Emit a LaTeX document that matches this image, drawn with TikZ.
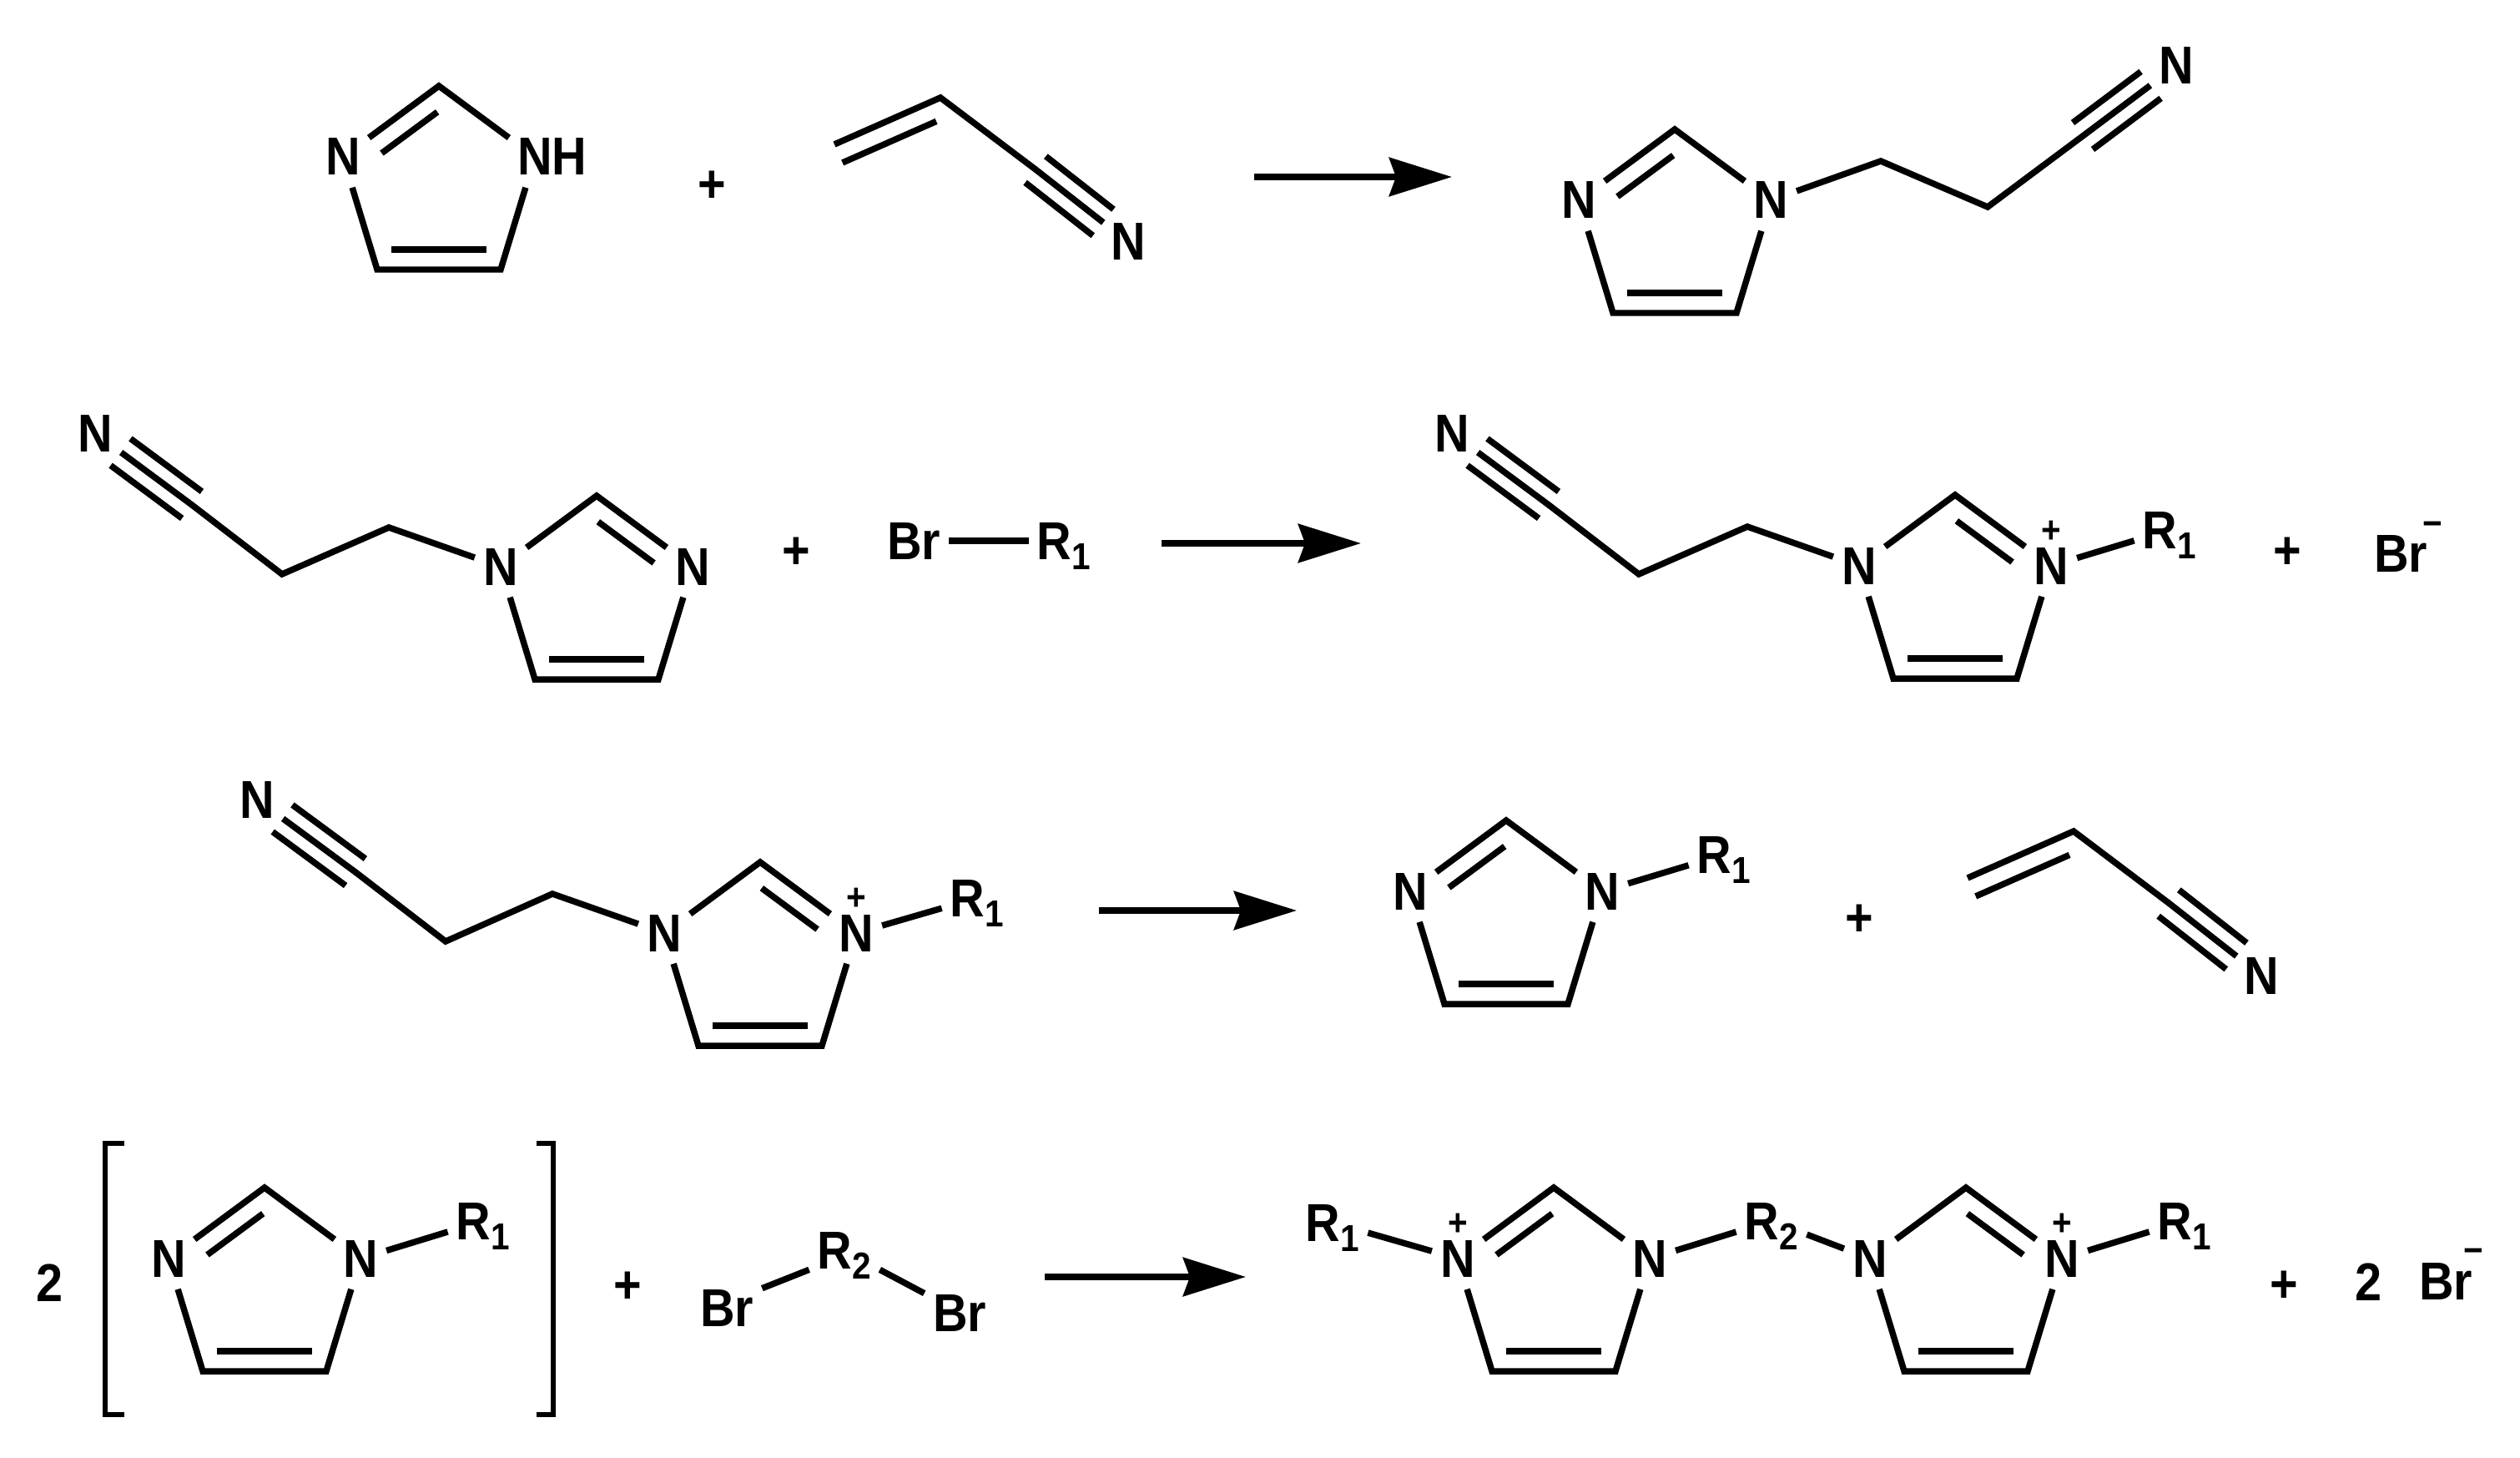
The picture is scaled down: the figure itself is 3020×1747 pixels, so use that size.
\documentclass[tikz,border=0pt]{standalone}
\usepackage{fontspec}
\setmainfont[FakeStretch=0.9]{Liberation Sans}
\usetikzlibrary{calc,arrows.meta}
\def\atomfont{\fontsize{36.4}{40}\selectfont\bfseries}
\def\chgfont{\fontsize{25.6}{28}\selectfont\bfseries}
\def\Rg#1{R\raisebox{-0.2em}[0pt][0pt]{\chgfont #1}}
\tikzset{
	bond/.style={line width=0.15cm, line join=miter},
	atom/.style={inner xsep=0.2cm, inner ysep=0.02cm, font=\atomfont},
	sign/.style={inner sep=0pt, font=\atomfont},
	chg/.style={inner sep=0pt, font=\chgfont},
	rxn/.style={line width=0.16cm, -{Stealth[length=1.5cm,width=0.92cm,inset=0.16cm]}},
	brk/.style={line width=0.11cm}
}
% second line of a double bond, on the side given by the angle
\def\dbond[#1](#2)(#3)#4{\draw[bond,#1] ($(#2)!0.48cm!#4:(#3)$) -- ($(#3)!0.48cm!-1*#4:(#2)$);}
% two outer lines of a triple bond
\def\tbond(#1)(#2){
	\draw[bond,shorten >=0.76cm] ($(#1)!0.4cm!90:(#2)$) -- ($(#2)!0.4cm!-90:(#1)$);
	\draw[bond,shorten >=0.76cm] ($(#1)!0.4cm!-90:(#2)$) -- ($(#2)!0.4cm!90:(#1)$);
}
\def\imring#1(#2,#3)#4#5{
	\coordinate (#1-top) at (#2,#3);
	\node[atom] (#1-left) at (#2-115,#3+85) {#4};
	\node[atom] (#1-right) at (#2+115,#3+85) {#5};
	\coordinate (#1-a) at (#2-74,#3+220);
	\coordinate (#1-b) at (#2+74,#3+220);
	\draw[bond] (#1-left) -- (#1-top) -- (#1-right);
	\draw[bond,shorten <=0.28cm,shorten >=0.28cm] (#1-left) -- (#1-a) -- (#1-b) -- (#1-right);
	\dbond[shorten <=0.34cm,shorten >=0.34cm](#1-a)(#1-b){90}
}
\def\leftdb#1{\dbond[shorten <=0.4cm,shorten >=0.8cm](#1-top)(#1-left){90}}
\def\rightdb#1{\dbond[shorten <=0.4cm,shorten >=0.8cm](#1-top)(#1-right){-90}}
\def\acryl#1(#2,#3){
	\coordinate (#1-top) at (#2,#3);
	\coordinate (#1-end) at (#2-127,#3+56);
	\coordinate (#1-c) at (#2+114,#3+86);
	\node[atom] (#1-n) at (#2+225,#3+173) {N};
	\draw[bond] (#1-end) -- (#1-top) -- (#1-c) -- (#1-n);
	\dbond[shorten <=0.32cm](#1-top)(#1-end){90}
	\tbond(#1-c)(#1-n)
}
% N-CH2-CH2-CN arm; the last two numbers are the cyano N
\def\cyano#1(#2,#3)(#4,#5)(#6,#7)(#8,#9){
	\coordinate (#1-ca) at (#2,#3);
	\coordinate (#1-cb) at (#4,#5);
	\coordinate (#1-c) at (#6,#7);
	\node[atom] (#1-n) at (#8,#9) {N};
	\tbond(#1-c)(#1-n)
}
\def\rxnarrow#1(#2,#3,#4){
	\coordinate (#1-s) at (#2,#4);
	\coordinate (#1-e) at (#3,#4);
	\draw[rxn] (#1-s) -- (#1-e);
}

\begin{document}
\begin{tikzpicture}[x=0.02cm,y=-0.02cm]
			\useasboundingbox (0,0) rectangle (3020,1747);
			%%%%% ROW 1 %%%%%

			\imring{ra}(526,103){N}{N\rlap{H}}
			\leftdb{ra}
			\node[sign] (pa) at (853,224) {+};
			\acryl{aa}(1127,117)
			\rxnarrow{xa}(1503,1740,212)

			\imring{rb}(2007,155){N}{N}
			\leftdb{rb}
			\cyano{cb}(2254,193)(2382,248)(2496,163)(2608,79)
			\draw[bond] (rb-right) -- (cb-ca) -- (cb-cb) -- (cb-c) -- (cb-n);

			%%%%% ROW 2 %%%%%

			\imring{rc}(715,594){N}{N}
			\rightdb{rc}
			\cyano{cc}(466,632)(338,688)(230,605)(114,519)
			\draw[bond] (rc-left) -- (cc-ca) -- (cc-cb) -- (cc-c) -- (cc-n);
			\node[sign] (pc) at (954,663) {+};
			\node[atom] (brc) at (1095,648) {Br};
			\node[atom] (rrc) at (1275,648) {\Rg{1}};
			\draw[bond] (brc) -- (rrc);
			\rxnarrow{xc}(1392,1631,651)

			\imring{rd}(2343,593){N}{N}
			\rightdb{rd}
			\cyano{cd}(2094,631)(1964,688)(1856,605)(1740,519)
			\draw[bond] (rd-left) -- (cd-ca) -- (cd-cb) -- (cd-c) -- (cd-n);
			\node[chg] (qd) at ($(rd-right)+(0,-41)$) {+};
			\node[atom] (rrd) at (2600,635) {\Rg{1}};
			\draw[bond] (rd-right) -- (rrd);
			\node[sign] (pd) at (2741,663) {+};
			\node[atom] (brd) at (2877,663) {Br};
			\node[chg] (md) at (2915,634) {−};

			%%%%% ROW 3 %%%%%

			\imring{re}(911,1033){N}{N}
			\rightdb{re}
			\cyano{ce}(662,1071)(534,1128)(426,1045)(308,958)
			\draw[bond] (re-left) -- (ce-ca) -- (ce-cb) -- (ce-c) -- (ce-n);
			\node[chg] (qe) at ($(re-right)+(0,-41)$) {+};
			\node[atom] (rre) at (1171,1076) {\Rg{1}};
			\draw[bond] (re-right) -- (rre);
			\rxnarrow{xe}(1317,1554,1091)

			\imring{rf}(1805,983){N}{N}
			\leftdb{rf}
			\node[atom] (rrf) at (2066,1024) {\Rg{1}};
			\draw[bond] (rf-right) -- (rrf);
			\node[sign] (pf) at (2228,1103) {+};
			\acryl{af}(2485,996)

			%%%%% ROW 4 %%%%%

			\node[sign] (ng) at (60,1537) {2};
			\draw[brk] (149,1370) -- (126,1370) -- (126,1695) -- (149,1695);
			\draw[brk] (643,1370) -- (663,1370) -- (663,1695) -- (643,1695);
			\imring{rg}(317,1423){N}{N}
			\leftdb{rg}
			\node[atom] (rrg) at (579,1463) {\Rg{1}};
			\draw[bond] (rg-right) -- (rrg);
			\node[sign] (pg) at (752,1543) {+};
			\node[atom] (brg) at (871,1567) {Br};
			\node[atom] (rsg) at (1012,1498) {\Rg{2}};
			\node[atom] (brh) at (1150,1573) {Br};
			\draw[bond] (brg.north east) -- (rsg.south west);
			\draw[bond] (rsg.south east) -- (brh.north west);
			\rxnarrow{xg}(1252,1493,1530)

			\imring{rh}(1862,1423){N}{N}
			\leftdb{rh}
			\node[chg] (qh) at ($(rh-left)+(0,-41)$) {+};
			\node[atom] (rrh) at (1597,1465) {\Rg{1}};
			\draw[bond] (rh-left) -- (rrh);
			\node[atom] (rsh) at (2123,1463) {\Rg{2}};
			\draw[bond] (rh-right) -- (rsh);
			\imring{ri}(2356,1423){N}{N}
			\rightdb{ri}
			\draw[bond] (rsh) -- (ri-left);
			\node[chg] (qi) at ($(ri-right)+(0,-41)$) {+};
			\node[atom] (rri) at (2618,1463) {\Rg{1}};
			\draw[bond] (ri-right) -- (rri);
			\node[sign] (pi) at (2737,1542) {+};
			\node[sign] (ni) at (2838,1536) {2};
			\node[atom] (bri) at (2931,1535) {Br};
			\node[chg] (mi) at (2964,1505) {−};

			%%%%% END %%%%%
\end{tikzpicture}
\end{document}
